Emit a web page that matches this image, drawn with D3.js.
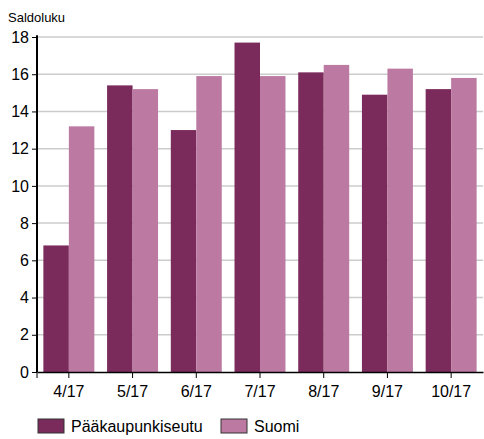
<!DOCTYPE html>
<html>
<head>
<meta charset="utf-8">
<script src="https://cdn.jsdelivr.net/npm/d3@7"></script>
<style>
  body { margin: 0; background: #fff; }
  svg text { font-family: "Liberation Sans", Arial, sans-serif; fill: #000; }
</style>
</head>
<body>
<div id="chart"></div>
<script>
// kuukaudet ja saldoluvut
const months = ["4/17", "5/17", "6/17", "7/17", "8/17", "9/17", "10/17"];
const seriesNames = ["Pääkaupunkiseutu", "Suomi"];
const pks = [6.8, 15.4, 13.0, 17.7, 16.1, 14.9, 15.2];
const suomi = [13.2, 15.2, 15.9, 15.9, 16.5, 16.3, 15.8];
const yTicks = [0, 2, 4, 6, 8, 10, 12, 14, 16, 18];
const colors = ["#7b2a5c", "#bc7aa2"];

const width = 484, height = 439;
const margin = {left: 37, right: 1, top: 37, bottom: 67};

const svg = d3.select("#chart").append("svg")
    .attr("width", width)
    .attr("height", height);

const x = d3.scaleBand()
    .domain(months)
    .range([margin.left, width - margin.right])
    .paddingInner(0.2)
    .paddingOuter(0.1);

const xInner = d3.scaleBand()
    .domain(seriesNames)
    .range([0, x.bandwidth()]);

const y = d3.scaleLinear()
    .domain([0, 18])
    .range([height - margin.bottom, margin.top]);

// ruudukko
svg.append("g")
    .selectAll("line")
    .data(yTicks.filter(d => d > 0))
    .enter().append("line")
    .attr("x1", margin.left)
    .attr("x2", width - margin.right)
    .attr("y1", d => y(d))
    .attr("y2", d => y(d))
    .attr("stroke", "#cccccc")
    .attr("stroke-width", 1.5);

// pylväät
const data = months.map((m, i) => ({m: m, vals: [pks[i], suomi[i]]}));
svg.append("g")
    .selectAll("g")
    .data(data)
    .enter().append("g")
    .attr("transform", d => "translate(" + x(d.m) + ",0)")
    .selectAll("rect")
    .data(d => d.vals.map((v, j) => ({name: seriesNames[j], v: v, j: j})))
    .enter().append("rect")
    .attr("x", d => xInner(d.name))
    .attr("width", xInner.bandwidth())
    .attr("y", d => y(d.v))
    .attr("height", d => y(0) - y(d.v))
    .attr("fill", d => colors[d.j]);

// y-akseli
const yAxis = svg.append("g")
    .attr("transform", "translate(" + margin.left + ",0)")
    .call(d3.axisLeft(y).tickValues(yTicks).tickSize(5).tickPadding(3).tickSizeOuter(0));
yAxis.select(".domain").attr("stroke", "#000").attr("stroke-width", 2)
    .attr("d", "M0," + y(18.1) + "V" + y(0));
yAxis.selectAll("text").attr("font-size", 16);

// x-akseli
const xAxis = svg.append("g")
    .attr("transform", "translate(0," + y(0) + ")")
    .call(d3.axisBottom(x).tickSize(6).tickPadding(8).tickSizeOuter(0));
xAxis.select(".domain").attr("stroke", "#000").attr("stroke-width", 1.5);
xAxis.selectAll("text").attr("font-size", 16);
xAxis.append("line")
    .attr("x1", margin.left).attr("x2", margin.left)
    .attr("y1", 0).attr("y2", 6)
    .attr("stroke", "#000");

// otsikko
svg.append("text")
    .attr("x", 8)
    .attr("y", 22)
    .attr("font-size", 13)
    .text("Saldoluku");

// selite
const legendX = [38, 221];
const legend = svg.append("g")
    .selectAll("g")
    .data(seriesNames)
    .enter().append("g")
    .attr("transform", (d, i) => "translate(" + legendX[i] + ",419)");
legend.append("rect")
    .attr("width", 26)
    .attr("height", 14)
    .attr("fill", (d, i) => colors[i])
    .attr("stroke", "#333")
    .attr("stroke-width", 1);
legend.append("text")
    .attr("x", 33)
    .attr("y", 13)
    .attr("font-size", 16)
    .text(d => d);
</script>
</body>
</html>
